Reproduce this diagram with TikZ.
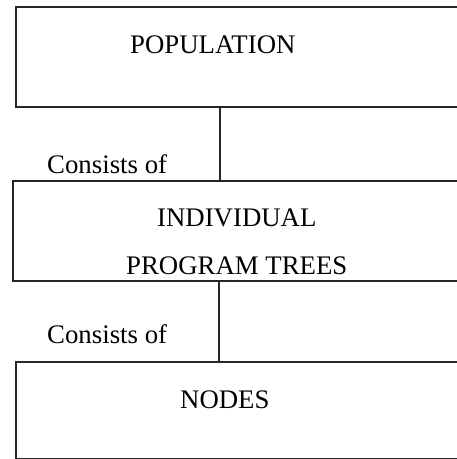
\documentclass[tikz,border=0pt]{standalone}
\usepackage{fontspec}
\setmainfont{Liberation Serif}
\begin{document}
\begin{tikzpicture}[x=1pt,y=-1pt,
  boxnode/.style={draw=black!85,line width=1.4pt,rectangle,inner sep=0pt},
  lbl/.style={anchor=base west,inner sep=0pt,font=\fontsize{26.8}{31}\selectfont,text=black},
  conn/.style={draw=black!85,line width=1.3pt}]
\useasboundingbox (0,0) rectangle (457,459);
\node[boxnode,minimum width=442pt,minimum height=100pt] (top) at (237,57) {};
\node[boxnode,minimum width=445pt,minimum height=100pt] (mid) at (235.5,231) {};
\node[boxnode,minimum width=443pt,minimum height=97pt] (bot) at (237.5,410.5) {};
\node[lbl] (tpop) at (130,53) {POPULATION};
\node[lbl] (c1) at (47,173) {Consists of};
\node[lbl] (tind) at (157,226) {INDIVIDUAL};
\node[lbl] (tprog) at (126,274) {PROGRAM TREES};
\node[lbl] (c2) at (47,343) {Consists of};
\node[lbl] (tnodes) at (180,408) {NODES};
\coordinate (j1) at (220,0);
\coordinate (j2) at (219,0);
\draw[conn] (top.south -| j1) -- (mid.north -| j1);
\draw[conn] (mid.south -| j2) -- (bot.north -| j2);
\end{tikzpicture}
\end{document}
